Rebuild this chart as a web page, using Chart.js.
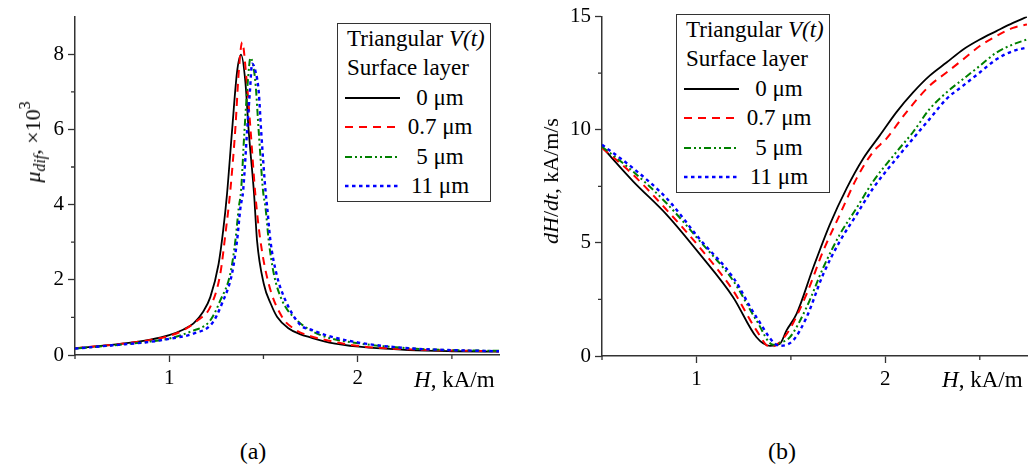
<!DOCTYPE html>
<html>
<head>
<meta charset="utf-8">
<script src="https://cdn.jsdelivr.net/npm/chart.js@4.4.1/dist/chart.umd.min.js"></script>
<style>
body{margin:0;background:#fff;font-family:"Liberation Serif","Times New Roman","DejaVu Serif",serif;color:#000}
#page{position:relative;width:1028px;height:472px;overflow:hidden}
#c1,#c2{position:absolute;top:0}
#c1{left:0}
#c2{left:514px}
.txt{position:absolute;white-space:nowrap;font-size:23px;line-height:1}
.ytl{font-size:22px}
.rot{transform:translate(-50%,-50%) rotate(-90deg)}
.cap{transform:translateX(-50%);font-size:24px}
sub{font-size:0.72em;vertical-align:baseline;position:relative;top:0.3em}
sup{font-size:0.72em;vertical-align:baseline;position:relative;top:-0.62em}
.legend{position:absolute;width:154px;height:179px;box-sizing:border-box;border:1.5px solid #333;background:#fff}
.row{position:absolute;left:0;right:0;height:30px;line-height:30px;font-size:23px;white-space:nowrap}
.row svg{position:absolute;left:7px;top:12px}
.row .lab{position:absolute;left:64px;width:76px;text-align:center}
.row .ttl{position:absolute;left:9px}
</style>
</head>
<body>
<div id="page">
  <canvas id="c1" width="514" height="400"></canvas>
  <canvas id="c2" width="514" height="400"></canvas>

  <div class="txt ytl rot" style="left:33px;top:142px"><i>μ</i><sub><i>dif</i></sub>, ×10<sup>3</sup></div>
  <div class="txt" style="left:414px;top:368px"><i>H</i>, kA/m</div>
  <div class="txt cap" style="left:253px;top:439px">(a)</div>

  <div class="txt ytl rot" style="left:551px;top:181px"><i>dH</i>/<i>dt</i>, kA/m/s</div>
  <div class="txt" style="left:942px;top:368px"><i>H</i>, kA/m</div>
  <div class="txt cap" style="left:782px;top:439px">(b)</div>

  <div class="legend" id="leg1" style="left:337px;top:23px"></div>
  <div class="legend" id="leg2" style="left:676px;top:14px"></div>
</div>
<script>
// series names and styles
const names = ["0 μm", "0.7 μm", "5 μm", "11 μm"];
const colors = ["#000000", "#ff0000", "#008000", "#0000ff"];
const dashes = [[], [8, 6], [7, 3, 2, 3, 2, 3], [3.5, 3.5]];
const widths = [1.8, 2, 2, 2.4];

// (a) differential permeability, x10^3, vs H (kA/m)
const muH0 = [0.5, 0.75, 0.9, 1.0, 1.076, 1.129, 1.18, 1.218, 1.262, 1.286, 1.307, 1.333, 1.36, 1.381, 1.404, 1.422, 1.45, 1.466, 1.502, 1.54, 1.573, 1.63, 1.697, 1.741, 1.85, 2.007, 2.27, 2.5, 2.75];
const mu0  = [0.18, 0.30, 0.41, 0.53, 0.68, 0.84, 1.15, 1.54, 2.42, 3.30, 4.30, 5.94, 7.53, 7.99, 7.27, 5.94, 4.30, 3.04, 1.89, 1.35, 1.01, 0.72, 0.55, 0.48, 0.33, 0.22, 0.13, 0.10, 0.09];
const muH1 = [0.5, 0.75, 0.9, 1.0, 1.076, 1.15, 1.218, 1.271, 1.298, 1.324, 1.351, 1.369, 1.387, 1.41, 1.431, 1.457, 1.484, 1.528, 1.599, 1.661, 1.75, 1.83, 2.005, 2.27, 2.5, 2.75];
const mu1  = [0.18, 0.30, 0.40, 0.51, 0.66, 0.92, 1.28, 2.16, 3.21, 4.36, 6.03, 7.53, 8.32, 7.35, 6.03, 4.27, 3.04, 1.89, 1.01, 0.70, 0.50, 0.40, 0.24, 0.15, 0.12, 0.10];
const muH2 = [0.5, 0.75, 0.9, 1.0, 1.112, 1.218, 1.271, 1.324, 1.351, 1.369, 1.381, 1.399, 1.417, 1.431, 1.457, 1.475, 1.498, 1.511, 1.528, 1.555, 1.599, 1.679, 1.75, 1.83, 2.005, 2.27, 2.5, 2.75];
const mu2  = [0.17, 0.28, 0.36, 0.44, 0.62, 0.92, 1.45, 2.16, 3.04, 3.92, 4.36, 5.94, 7.27, 7.90, 7.27, 5.94, 4.36, 3.92, 3.04, 2.16, 1.45, 0.92, 0.66, 0.48, 0.31, 0.18, 0.13, 0.11];
const muH3 = [0.5, 0.75, 0.9, 1.0, 1.129, 1.227, 1.28, 1.333, 1.36, 1.378, 1.392, 1.413, 1.428, 1.44, 1.46, 1.475, 1.488, 1.511, 1.52, 1.537, 1.569, 1.617, 1.70, 1.75, 1.83, 2.005, 2.27, 2.5, 2.75];
const mu3  = [0.17, 0.28, 0.35, 0.43, 0.57, 0.84, 1.37, 2.16, 3.04, 3.92, 4.36, 5.94, 7.00, 7.75, 7.50, 7.00, 5.94, 4.36, 3.92, 3.04, 2.16, 1.45, 0.78, 0.68, 0.53, 0.33, 0.18, 0.13, 0.10];

// (b) field rate dH/dt (kA/m/s) vs H (kA/m)
const rtH0 = [0.5, 0.666, 0.842, 1.019, 1.195, 1.318, 1.389, 1.442, 1.477, 1.53, 1.618, 1.706, 1.795, 1.883, 1.971, 2.059, 2.147, 2.235, 2.324, 2.412, 2.5, 2.588, 2.676, 2.75];
const rt0  = [9.24, 7.71, 6.25, 4.49, 2.59, 0.83, 0.45, 0.54, 1.13, 1.86, 3.90, 5.81, 7.41, 8.73, 9.75, 10.78, 11.65, 12.39, 12.97, 13.55, 13.99, 14.36, 14.72, 14.99];
const rtH1 = [0.5, 0.666, 0.842, 1.019, 1.195, 1.318, 1.389, 1.44, 1.495, 1.583, 1.671, 1.759, 1.848, 1.935, 2.006, 2.112, 2.235, 2.324, 2.412, 2.5, 2.588, 2.676, 2.75];
const rt1  = [9.20, 8.00, 6.46, 4.78, 2.88, 1.13, 0.40, 0.60, 1.20, 2.74, 4.64, 6.25, 7.85, 9.02, 9.61, 10.78, 11.95, 12.53, 13.11, 13.70, 14.14, 14.50, 14.65];
const rtH2 = [0.5, 0.666, 0.842, 1.019, 1.195, 1.318, 1.406, 1.45, 1.495, 1.583, 1.671, 1.759, 1.848, 1.935, 2.059, 2.147, 2.235, 2.324, 2.412, 2.5, 2.588, 2.676, 2.75];
const rt2  = [9.25, 8.14, 6.75, 5.07, 3.32, 1.57, 0.50, 0.60, 0.83, 2.15, 3.90, 5.37, 6.54, 7.71, 9.02, 9.90, 10.92, 11.65, 12.24, 12.82, 13.41, 13.77, 13.99];
const rtH3 = [0.5, 0.666, 0.842, 1.019, 1.195, 1.318, 1.442, 1.512, 1.583, 1.671, 1.759, 1.848, 1.935, 2.059, 2.147, 2.235, 2.324, 2.412, 2.5, 2.588, 2.676, 2.75];
const rt3  = [9.34, 8.29, 6.97, 5.15, 3.46, 1.71, 0.45, 0.69, 1.71, 3.61, 5.07, 6.25, 7.41, 8.73, 9.61, 10.48, 11.36, 11.95, 12.53, 13.11, 13.48, 13.63];

const xMajor = [1, 2];
const xMinor = [0.5, 1.5, 2.5];
const muMajor = [0, 2, 4, 6, 8];
const muMinor = [1, 3, 5, 7];
const rtMajor = [0, 5, 10, 15];
const rtMinor = [2.5, 7.5, 12.5];

const axisColor = "#333";
Chart.defaults.font.family = "'Liberation Serif', 'Times New Roman', serif";
Chart.defaults.color = "#000";

function pts(xs, ys) {
  return xs.map((x, i) => ({x: x, y: ys[i]}));
}

function makeSets(pairs) {
  return pairs.map((p, i) => ({
    label: names[i],
    data: pts(p[0], p[1]),
    borderColor: colors[i],
    borderWidth: widths[i],
    borderDash: dashes[i],
    pointRadius: 0,
    fill: false,
    cubicInterpolationMode: "monotone",
    order: 3 - i
  }));
}

const minorTicks = {
  id: "minorTicks",
  afterDraw(chart, args, opts) {
    const ctx = chart.ctx, a = chart.chartArea;
    ctx.save();
    ctx.strokeStyle = axisColor;
    ctx.lineWidth = 1.3;
    ctx.beginPath();
    opts.x.forEach(v => {
      const px = chart.scales.x.getPixelForValue(v);
      ctx.moveTo(px, a.bottom);
      ctx.lineTo(px, a.bottom + 4);
    });
    opts.y.forEach(v => {
      const py = chart.scales.y.getPixelForValue(v);
      ctx.moveTo(a.left, py);
      ctx.lineTo(a.left - 4, py);
    });
    ctx.stroke();
    ctx.restore();
  }
};

function axis(min, max, majors, fitKey, fitVal) {
  return {
    type: "linear",
    min: min,
    max: max,
    afterBuildTicks: s => { s.ticks = majors.map(v => ({value: v})); },
    afterFit: s => { s[fitKey] = fitVal; },
    grid: {drawOnChartArea: false, drawTicks: true, tickLength: 7, tickColor: axisColor, tickWidth: 1.3},
    border: {display: true, color: axisColor, width: 1.5},
    ticks: {font: {size: 21}, color: "#000", padding: 4, maxRotation: 0, autoSkip: false}
  };
}

function makeChart(id, sets, yMin, yMax, yMajor, yMinor, yWidth, xHeight, pad) {
  return new Chart(document.getElementById(id), {
    type: "line",
    data: {datasets: sets},
    options: {
      responsive: false,
      animation: false,
      devicePixelRatio: 1,
      layout: {padding: pad},
      plugins: {legend: {display: false}, tooltip: {enabled: false}, minorTicks: {x: xMinor, y: yMinor}},
      scales: {
        x: axis(0.5, 2.75, xMajor, "height", xHeight),
        y: axis(yMin, yMax, yMajor, "width", yWidth)
      }
    },
    plugins: [minorTicks]
  });
}

makeChart("c1", makeSets([[muH0, mu0], [muH1, mu1], [muH2, mu2], [muH3, mu3]]),
  0, 9, muMajor, muMinor, 75, 45, {top: 14, right: 15, left: 0, bottom: 0});
makeChart("c2", makeSets([[rtH0, rt0], [rtH1, rt1], [rtH2, rt2], [rtH3, rt3]]),
  0, 15, rtMajor, rtMinor, 88, 44, {top: 13, right: 1, left: 0, bottom: 0});

// legends
function buildLegend(el) {
  const rows = ['Triangular <i>V(t)</i>', 'Surface layer'];
  let html = "";
  rows.forEach((t, i) => {
    html += '<div class="row" style="top:' + (14.5 + 29.5 * i - 15) + 'px"><span class="ttl">' + t + '</span></div>';
  });
  names.forEach((n, i) => {
    const top = 14.5 + 29.5 * (i + 2) - 15;
    html += '<div class="row" style="top:' + top + 'px">' +
      '<svg width="55" height="6"><line x1="0" y1="3" x2="55" y2="3" stroke="' + colors[i] +
      '" stroke-width="' + widths[i] + '" stroke-dasharray="' + dashes[i].join(" ") + '"/></svg>' +
      '<span class="lab">' + n + '</span></div>';
  });
  el.innerHTML = html;
}
buildLegend(document.getElementById("leg1"));
buildLegend(document.getElementById("leg2"));
</script>
</body>
</html>
